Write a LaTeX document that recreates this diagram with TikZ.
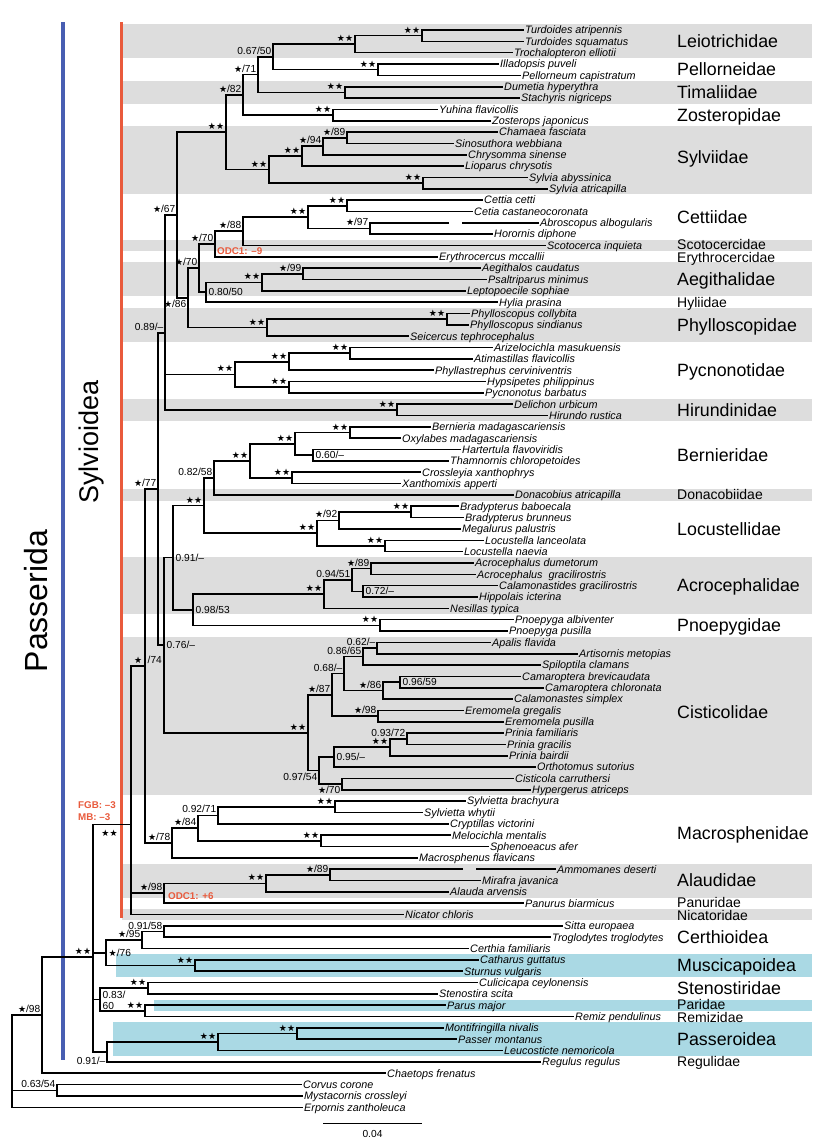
\documentclass[tikz,border=0pt]{standalone}
\usepackage{fontspec}
\setmainfont{Liberation Sans}
\newfontfamily\dvs{DejaVu Sans}
\definecolor{bandgray}{RGB}{221,221,221}
\definecolor{bandblue}{RGB}{170,217,228}
\definecolor{sylred}{RGB}{233,90,60}
\definecolor{pasblue}{RGB}{72,94,178}
\newcommand\stt{{\dvs\fontsize{9}{9}\selectfont ★}}
\newcommand\dst{\stt\kern0.3pt\stt}
\tikzset{
  br/.style={line width=1.6pt, line cap=rect, line join=miter},
  lf/.style={anchor=west, inner xsep=2pt, inner ysep=0pt, text height=8.4pt, text depth=0.7pt, font=\fontsize{10.8}{11}\selectfont\itshape},
  famL/.style={anchor=west, inner sep=0pt, text height=12.6pt, text depth=0pt, font=\fontsize{17.8}{18}\selectfont},
  famS/.style={anchor=west, inner sep=0pt, text height=10pt, text depth=0pt, font=\fontsize{14}{15}\selectfont},
  sup/.style={inner sep=0pt, text height=7.2pt, text depth=0pt, font=\fontsize{10.2}{11}\selectfont},
  supAL/.style={sup, anchor=south east, xshift=-1.5pt, yshift=2.3pt},
  supR/.style={sup, anchor=west, xshift=2.5pt},
  supBL/.style={sup, anchor=north east, xshift=-1.5pt, yshift=-2.3pt},
  odc/.style={anchor=west, inner sep=0pt, text=sylred, font=\fontsize{9.8}{10}\selectfont\bfseries},
  big/.style={rotate=90, inner sep=0pt},
}
\newcommand\mkleaf[4]{\node[lf] (l#1) at (#3,{Y(#1)}) {#4}; \draw[br] (#2) |- (l#1.west);}
\newcommand\supl[2]{\node[supAL] at (#1) {#2};}
\newcommand\gband[3]{\fill[#1] (122,{Y(#2-0.5)}) rectangle (812,{Y(#3+0.5)});}
\begin{document}
\begin{tikzpicture}[x=1pt,y=-1pt,declare function={Y(\i)=18.66+11.34*\i;}]
\useasboundingbox (0,0) rectangle (829,1138);
\fill[white] (0,0) rectangle (829,1138);
% bands
\gband{bandgray}{1}{3}
\gband{bandgray}{6}{7}
\gband{bandgray}{10}{15}
\gband{bandgray}{20}{20}
\gband{bandgray}{22}{24}
\gband{bandgray}{26}{28}
\gband{bandgray}{34}{35}
\gband{bandgray}{42}{42}
\gband{bandgray}{48}{52}
\gband{bandgray}{55}{68}
\gband{bandgray}{75}{77}
\gband{bandgray}{79}{79}
\fill[bandblue] (116,{Y(82.5)}) rectangle (812,{Y(84.5)});
\fill[bandblue] (154,{Y(86.5)}) rectangle (812,{Y(87.5)});
\fill[bandblue] (113,{Y(88.5)}) rectangle (812,{Y(91.5)});
% clade bars
\coordinate (redT) at (121.5,22); \coordinate (redB) at (121.5,918);
\coordinate (bluT) at (63,22); \coordinate (bluB) at (63,1060);
\draw[sylred, line width=3.5pt] (redT) -- (redB);
\draw[pasblue, line width=3.2pt] (bluT) -- (bluB);
\node[big, font=\fontsize{27}{30}\selectfont] (sylv) at (92,442) {Sylvioidea};
\node[big, font=\fontsize{32}{34}\selectfont] (pass) at (36,601) {Passerida};
% internal nodes
\coordinate (tA) at (422,{Y(1.5)});
\coordinate (nLeio) at (355,{Y(2.25)});
\coordinate (nPell) at (378,{Y(4.5)});
\coordinate (n6750) at (273,{Y(3.375)});
\coordinate (nTim) at (345,{Y(6.5)});
\coordinate (n71) at (258,{Y(4.9375)});
\coordinate (nZos) at (333,{Y(8.5)});
\coordinate (n82) at (243,{Y(6.71875)});
\coordinate (nCS) at (347,{Y(10.5)});
\coordinate (n94) at (323,{Y(11.25)});
\coordinate (nSyl2) at (302,{Y(12.125)});
\coordinate (nSylvia) at (423,{Y(14.5)});
\coordinate (nSylv) at (269,{Y(13.3125)});
\coordinate (nBab) at (226,{Y(10.015625)});
\coordinate (nCet2) at (347,{Y(16.5)});
\coordinate (nAbr) at (370,{Y(18.5)});
\coordinate (nCett) at (308,{Y(17.5)});
\coordinate (n88) at (243,{Y(18.75)});
\coordinate (n70a) at (215,{Y(19.875)});
\coordinate (nAeg2) at (303,{Y(22.5)});
\coordinate (nAeg) at (262,{Y(23.25)});
\coordinate (n8050) at (206,{Y(24.125)});
\coordinate (n70b) at (199,{Y(22)});
\coordinate (nPhy2) at (447,{Y(26.5)});
\coordinate (nPhy) at (267,{Y(27.25)});
\coordinate (n86) at (188,{Y(24.625)});
\coordinate (n67) at (177,{Y(17.3203)});
\coordinate (nAri) at (350,{Y(29.5)});
\coordinate (nPyc1) at (289,{Y(30.25)});
\coordinate (nPyc2) at (289,{Y(32.5)});
\coordinate (nPyc) at (235,{Y(31.375)});
\coordinate (nHir) at (397,{Y(34.5)});
\coordinate (n89) at (165,{Y(27.7318)});
\coordinate (nBer2) at (350,{Y(36.5)});
\coordinate (nHar) at (313,{Y(38.5)});
\coordinate (nBer1) at (295,{Y(37.5)});
\coordinate (nCro) at (292,{Y(40.5)});
\coordinate (nBer) at (250,{Y(39)});
\coordinate (n8258) at (214,{Y(40.5)});
\coordinate (nBra) at (411,{Y(43.5)});
\coordinate (n92) at (339,{Y(44.25)});
\coordinate (nLoc2) at (385,{Y(46.5)});
\coordinate (nLoc) at (317,{Y(45.375)});
\coordinate (nBLD) at (204,{Y(42.9375)});
\coordinate (nAcr2) at (371,{Y(48.5)});
\coordinate (nCal) at (363,{Y(50.5)});
\coordinate (n9451) at (352,{Y(49.5)});
\coordinate (nAcr) at (324,{Y(50.75)});
\coordinate (nPno) at (380,{Y(53.5)});
\coordinate (n9853) at (193,{Y(52.125)});
\coordinate (n91) at (173,{Y(47.53125)});
\coordinate (nApa) at (377,{Y(55.5)});
\coordinate (n8665) at (363,{Y(56.25)});
\coordinate (nCam2) at (400,{Y(58.5)});
\coordinate (nCam) at (383,{Y(59.25)});
\coordinate (n68) at (344,{Y(57.75)});
\coordinate (nEre) at (378,{Y(61.5)});
\coordinate (n87) at (332,{Y(59.625)});
\coordinate (nPri2) at (407,{Y(63.5)});
\coordinate (nPri) at (390,{Y(64.25)});
\coordinate (n95) at (334,{Y(65.125)});
\coordinate (nCis2) at (342,{Y(67.5)});
\coordinate (n9754) at (319,{Y(66.3125)});
\coordinate (nCis) at (308,{Y(62.96875)});
\coordinate (n76) at (164,{Y(55.25)});
\coordinate (n77) at (158,{Y(41.4909)});
\coordinate (nSyb) at (335,{Y(69.5)});
\coordinate (n9271) at (218,{Y(70.25)});
\coordinate (nMel) at (321,{Y(72.5)});
\coordinate (n84) at (198,{Y(71.375)});
\coordinate (n78) at (172,{Y(72.6875)});
\coordinate (n74) at (145,{Y(57.0892)});
\coordinate (nAmm) at (330,{Y(75.5)});
\coordinate (nAla) at (266,{Y(76.25)});
\coordinate (n98a) at (164,{Y(77.125)});
\coordinate (nSylvioidea) at (131,{Y(71.0714)});
\coordinate (nSit) at (164,{Y(80.5)});
\coordinate (n95c) at (142,{Y(81.25)});
\coordinate (nMus) at (195,{Y(83.5)});
\coordinate (n76c) at (106,{Y(82.375)});
\coordinate (nSte) at (148,{Y(85.5)});
\coordinate (nPar) at (145,{Y(87.5)});
\coordinate (n8360) at (100,{Y(86.5)});
\coordinate (nMon) at (297,{Y(89.5)});
\coordinate (nPas) at (218,{Y(90.25)});
\coordinate (n91b) at (107,{Y(91.125)});
\coordinate (nPasserida) at (93,{Y(82.7679)});
\coordinate (n98r) at (42,{Y(87.884)});
\coordinate (nCor) at (57,{Y(94.5)});
\coordinate (root) at (12,{Y(92.79)});
% internal edges
\foreach \p/\c in {nLeio/tA, n6750/nLeio, n6750/nPell, n71/n6750, n71/nTim, n82/n71, n82/nZos,
  n94/nCS, nSyl2/n94, nSylv/nSyl2, nSylv/nSylvia, nBab/n82, nBab/nSylv, n67/nBab, n67/n86,
  n86/n70b, n86/nPhy, n70b/n70a, n70b/n8050, n70a/n88, n88/nCett, nCett/nCet2, nCett/nAbr,
  n8050/nAeg, nAeg/nAeg2, nPhy/nPhy2, n89/n67, n89/nPyc, n89/nHir, nPyc/nPyc1, nPyc/nPyc2, nPyc1/nAri,
  n77/n89, n77/n76, n76/n91, n76/nCis, n91/nBLD, n91/n9853, nBLD/n8258, nBLD/nLoc, n8258/nBer,
  nBer/nBer1, nBer/nCro, nBer1/nBer2, nBer1/nHar, nLoc/n92, nLoc/nLoc2, n92/nBra,
  n9853/nAcr, n9853/nPno, nAcr/n9451, n9451/nAcr2, n9451/nCal,
  nCis/n87, nCis/n9754, n87/n68, n87/nEre, n68/n8665, n68/nCam, n8665/nApa, nCam/nCam2,
  n9754/n95, n9754/nCis2, n95/nPri, nPri/nPri2,
  n74/n77, n74/n78, n78/n84, n84/n9271, n84/nMel, n9271/nSyb,
  nSylvioidea/n74, nSylvioidea/n98a, n98a/nAla, nAla/nAmm,
  nPasserida/nSylvioidea, nPasserida/n76c, nPasserida/n8360, nPasserida/n91b,
  n76c/n95c, n76c/nMus, n95c/nSit, n8360/nSte, n8360/nPar, n91b/nPas, nPas/nMon,
  n98r/nPasserida, root/n98r, root/nCor}
  {\draw[br] (\p) |- (\c);}
% leaves
\mkleaf{1}{tA}{523}{Turdoides atripennis}
\mkleaf{2}{tA}{523}{Turdoides squamatus}
\mkleaf{3}{nLeio}{512}{Trochalopteron elliotii}
\mkleaf{4}{nPell}{498}{Illadopsis puveli}
\mkleaf{5}{nPell}{520}{Pellorneum capistratum}
\mkleaf{6}{nTim}{502}{Dumetia hyperythra}
\mkleaf{7}{nTim}{519}{Stachyris nigriceps}
\mkleaf{8}{nZos}{437}{Yuhina flavicollis}
\mkleaf{9}{nZos}{490}{Zosterops japonicus}
\mkleaf{10}{nCS}{497}{Chamaea fasciata}
\mkleaf{11}{nCS}{453}{Sinosuthora webbiana}
\mkleaf{12}{n94}{466}{Chrysomma sinense}
\mkleaf{13}{nSyl2}{463}{Lioparus chrysotis}
\mkleaf{14}{nSylvia}{527}{Sylvia abyssinica}
\mkleaf{15}{nSylvia}{547}{Sylvia atricapilla}
\mkleaf{16}{nCet2}{482}{Cettia cetti}
\mkleaf{17}{nCet2}{472}{Cetia castaneocoronata}
\coordinate (g18a) at (448,{Y(18)}); \coordinate (g18b) at (463,{Y(18)});
\node[lf] (l18) at (538,{Y(18)}) {Abroscopus albogularis};
\draw[br] (nAbr) |- (g18a); \draw[br] (g18b) -- (l18.west);
\mkleaf{19}{nAbr}{492}{Horornis diphone}
\mkleaf{20}{n88}{545}{Scotocerca inquieta}
\mkleaf{21}{n70a}{437}{Erythrocercus mccallii}
\mkleaf{22}{nAeg2}{480}{Aegithalos caudatus}
\mkleaf{23}{nAeg2}{486}{Psaltriparus minimus}
\mkleaf{24}{nAeg}{465}{Leptopoecile sophiae}
\mkleaf{25}{n8050}{497}{Hylia prasina}
\mkleaf{26}{nPhy2}{469}{Phylloscopus collybita}
\mkleaf{27}{nPhy2}{468}{Phylloscopus sindianus}
\mkleaf{28}{nPhy}{408}{Seicercus tephrocephalus}
\mkleaf{29}{nAri}{492}{Arizelocichla masukuensis}
\mkleaf{30}{nAri}{472}{Atimastillas flavicollis}
\mkleaf{31}{nPyc1}{433}{Phyllastrephus cerviniventris}
\mkleaf{32}{nPyc2}{485}{Hypsipetes philippinus}
\mkleaf{33}{nPyc2}{483}{Pycnonotus barbatus}
\mkleaf{34}{nHir}{512}{Delichon urbicum}
\mkleaf{35}{nHir}{547}{Hirundo rustica}
\mkleaf{36}{nBer2}{430}{Bernieria madagascariensis}
\mkleaf{37}{nBer2}{400}{Oxylabes madagascariensis}
\mkleaf{38}{nHar}{460}{Hartertula flavoviridis}
\mkleaf{39}{nHar}{448}{Thamnornis chloropetoides}
\mkleaf{40}{nCro}{420}{Crossleyia xanthophrys}
\mkleaf{41}{nCro}{400}{Xanthomixis apperti}
\mkleaf{42}{n8258}{513}{Donacobius atricapilla}
\mkleaf{43}{nBra}{458}{Bradypterus baboecala}
\mkleaf{44}{nBra}{463}{Bradypterus brunneus}
\mkleaf{45}{n92}{460}{Megalurus palustris}
\mkleaf{46}{nLoc2}{483}{Locustella lanceolata}
\mkleaf{47}{nLoc2}{462}{Locustella naevia}
\mkleaf{48}{nAcr2}{473}{Acrocephalus dumetorum}
\mkleaf{49}{nAcr2}{475}{Acrocephalus\ \ gracilirostris}
\mkleaf{50}{nCal}{497}{Calamonastides gracilirostris}
\mkleaf{51}{nCal}{477}{Hippolais icterina}
\mkleaf{52}{nAcr}{448}{Nesillas typica}
\mkleaf{53}{nPno}{513}{Pnoepyga albiventer}
\mkleaf{54}{nPno}{507}{Pnoepyga pusilla}
\mkleaf{55}{nApa}{490}{Apalis flavida}
\mkleaf{56}{nApa}{577}{Artisornis metopias}
\mkleaf{57}{n8665}{540}{Spiloptila clamans}
\mkleaf{58}{nCam2}{520}{Camaroptera brevicaudata}
\mkleaf{59}{nCam2}{543}{Camaroptera chloronata}
\mkleaf{60}{nCam}{512}{Calamonastes simplex}
\mkleaf{61}{nEre}{463}{Eremomela gregalis}
\mkleaf{62}{nEre}{503}{Eremomela pusilla}
\mkleaf{63}{nPri2}{503}{Prinia familiaris}
\mkleaf{64}{nPri2}{505}{Prinia gracilis}
\mkleaf{65}{nPri}{507}{Prinia bairdii}
\mkleaf{66}{n95}{535}{Orthotomus sutorius}
\mkleaf{67}{nCis2}{513}{Cisticola carruthersi}
\mkleaf{68}{nCis2}{530}{Hypergerus atriceps}
\mkleaf{69}{nSyb}{465}{Sylvietta brachyura}
\mkleaf{70}{nSyb}{422}{Sylvietta whytii}
\mkleaf{71}{n9271}{448}{Cryptillas victorini}
\mkleaf{72}{nMel}{450}{Melocichla mentalis}
\mkleaf{73}{nMel}{488}{Sphenoeacus afer}
\mkleaf{74}{n78}{417}{Macrosphenus flavicans}
\coordinate (g75a) at (462,{Y(75)}); \coordinate (g75b) at (477,{Y(75)});
\node[lf] (l75) at (555,{Y(75)}) {Ammomanes deserti};
\draw[br] (nAmm) |- (g75a); \draw[br] (g75b) -- (l75.west);
\mkleaf{76}{nAmm}{480}{Mirafra javanica}
\mkleaf{77}{nAla}{448}{Alauda arvensis}
\mkleaf{78}{n98a}{523}{Panurus biarmicus}
\mkleaf{79}{nSylvioidea}{403}{Nicator chloris}
\mkleaf{80}{nSit}{562}{Sitta europaea}
\mkleaf{81}{nSit}{550}{Troglodytes troglodytes}
\mkleaf{82}{n95c}{468}{Certhia familiaris}
\mkleaf{83}{nMus}{478}{Catharus guttatus}
\mkleaf{84}{nMus}{462}{Sturnus vulgaris}
\mkleaf{85}{nSte}{477}{Culicicapa ceylonensis}
\mkleaf{86}{nSte}{437}{Stenostira scita}
\mkleaf{87}{nPar}{445}{Parus major}
\mkleaf{88}{nPar}{573}{Remiz pendulinus}
\mkleaf{89}{nMon}{443}{Montifringilla nivalis}
\mkleaf{90}{nMon}{456}{Passer montanus}
\mkleaf{91}{nPas}{502}{Leucosticte nemoricola}
\mkleaf{92}{n91b}{540}{Regulus regulus}
\mkleaf{93}{n98r}{385}{Chaetops frenatus}
\mkleaf{94}{nCor}{301}{Corvus corone}
\mkleaf{95}{nCor}{302}{Mystacornis crossleyi}
\mkleaf{96}{root}{302}{Erpornis zantholeuca}
% support values above-left
\supl{tA}{\dst}
\supl{nLeio}{\dst}
\supl{nPell}{\dst}
\supl{n6750}{0.67/50}
\supl{nTim}{\dst}
\supl{n71}{\stt/71}
\supl{nZos}{\dst}
\supl{n82}{\stt/82}
\supl{nCS}{\stt/89}
\supl{n94}{\stt/94}
\supl{nSyl2}{\dst}
\supl{nSylvia}{\dst}
\supl{nSylv}{\dst}
\supl{nBab}{\dst}
\supl{nCet2}{\dst}
\supl{nAbr}{\stt/97}
\supl{nCett}{\dst}
\supl{n88}{\stt/88}
\supl{n70a}{\stt/70}
\supl{n70b}{\stt/70}
\supl{nAeg2}{\stt/99}
\supl{nAeg}{\dst}
\supl{nPhy2}{\dst}
\supl{nPhy}{\dst}
\supl{n67}{\stt/67}
\supl{nAri}{\dst}
\supl{nPyc1}{\dst}
\supl{nPyc2}{\dst}
\supl{nPyc}{\dst}
\supl{nHir}{\dst}
\supl{n89}{0.89/–}
\supl{nBer2}{\dst}
\supl{nBer1}{\dst}
\supl{nCro}{\dst}
\supl{nBer}{\dst}
\supl{n8258}{0.82/58}
\supl{nBLD}{\dst}
\supl{nBra}{\dst}
\supl{n92}{\stt/92}
\supl{nLoc2}{\dst}
\supl{nLoc}{\dst}
\supl{nAcr2}{\stt/89}
\supl{n9451}{0.94/51}
\supl{nAcr}{\dst}
\supl{nPno}{\dst}
\supl{nApa}{0.62/–}
\supl{n8665}{0.86/65}
\supl{nCam}{\stt/86}
\supl{n68}{0.68/–}
\supl{nEre}{\stt/98}
\supl{n87}{\stt/87}
\supl{nPri2}{0.93/72}
\supl{nPri}{\dst}
\supl{nCis}{\dst}
\supl{n77}{\stt/77}
\supl{nSyb}{\dst}
\supl{n9271}{0.92/71}
\supl{nMel}{\dst}
\supl{n84}{\stt/84}
\supl{n78}{\stt/78}
\supl{nAmm}{\stt/89}
\supl{nAla}{\dst}
\supl{n98a}{\stt/98}
\supl{nSit}{0.91/58}
\supl{n95c}{\stt/95}
\supl{nMus}{\dst}
\supl{nSte}{\dst}
\supl{nPar}{\dst}
\supl{nMon}{\dst}
\supl{nPas}{\dst}
\supl{nPasserida}{\dst}
\supl{n98r}{\stt/98}
\supl{nCor}{0.63/54}
% support values right of node
\node[supR] at (n8050) {0.80/50};
\node[supR] at (nHar) {0.60/–};
\node[supR] at (n91) {0.91/–};
\node[supR] at (n9853) {0.98/53};
\node[supR] at (n76) {0.76/–};
\node[supR] at (nCal) {0.72/–};
\node[supR] at (nCam2) {0.96/59};
\node[supR] at (n95) {0.95/–};
\node[supR] at (n76c) {\stt/76};
\node[supR, yshift=4.8pt] at (n8360) {0.83/};
\node[supR, yshift=-6.4pt] at (n8360) {60};
% support values below-left
\node[supBL] at (n86) {\stt/86};
\node[supBL] at (n9754) {0.97/54};
\node[supBL] at (nCis2) {\stt/70};
\node[supBL, yshift=-3pt] at (n91b) {0.91/–};
\node[supBL, xshift=-11.5pt, yshift=-2pt] at (nSylvioidea) {\dst};
\node[sup, anchor=south east, xshift=-2.5pt, yshift=2.3pt] at (n74) {\stt};
\node[sup, anchor=south west, xshift=2.5pt, yshift=2.3pt] at (n74) {/74};
% red notes
\node[odc] (odc9) at (217,251) {ODC1: –9};
\node[odc] (fgb) at (78,805) {FGB: –3};
\node[odc] (mb) at (78,817) {MB: –3};
\node[odc] (odc6) at (168,896) {ODC1: +6};
% family labels
\node[famL] (f1) at (677,{Y(2)}) {Leiotrichidae};
\node[famL] (f2) at (677,{Y(4.5)}) {Pellorneidae};
\node[famL] (f3) at (677,{Y(6.5)}) {Timaliidae};
\node[famL] (f4) at (677,{Y(8.5)}) {Zosteropidae};
\node[famL] (f5) at (677,{Y(12.2)}) {Sylviidae};
\node[famL] (f6) at (677,{Y(17.5)}) {Cettiidae};
\node[famS] (f7) at (677,{Y(20)-0.6}) {Scotocercidae};
\node[famS] (f8) at (677,{Y(21)+0.6}) {Erythrocercidae};
\node[famL] (f9) at (677,{Y(23)}) {Aegithalidae};
\node[famS] (f10) at (677,{Y(25)}) {Hyliidae};
\node[famL] (f11) at (677,{Y(27)}) {Phylloscopidae};
\node[famL] (f12) at (677,{Y(31)}) {Pycnonotidae};
\node[famL] (f13) at (677,{Y(34.5)}) {Hirundinidae};
\node[famL] (f14) at (677,{Y(38.5)}) {Bernieridae};
\node[famS] (f15) at (677,{Y(42)}) {Donacobiidae};
\node[famL] (f16) at (677,{Y(45)}) {Locustellidae};
\node[famL] (f17) at (677,{Y(50)}) {Acrocephalidae};
\node[famL] (f18) at (677,{Y(53.5)}) {Pnoepygidae};
\node[famL] (f19) at (677,{Y(61.2)}) {Cisticolidae};
\node[famL] (f20) at (677,{Y(71.8)}) {Macrosphenidae};
\node[famL] (f21) at (677,{Y(76)}) {Alaudidae};
\node[famS] (f22) at (677,{Y(78)-0.6}) {Panuridae};
\node[famS] (f23) at (677,{Y(79)+0.6}) {Nicatoridae};
\node[famL] (f24) at (677,{Y(81)}) {Certhioidea};
\node[famL] (f25) at (677,{Y(83.5)}) {Muscicapoidea};
\node[famL] (f26) at (677,{Y(85.5)}) {Stenostiridae};
\node[famS] (f27) at (677,{Y(87)-0.6}) {Paridae};
\node[famS] (f28) at (677,{Y(88)+0.6}) {Remizidae};
\node[famL] (f29) at (677,{Y(90)}) {Passeroidea};
\node[famS] (f30) at (677,{Y(92)}) {Regulidae};
% scale bar
\coordinate (sbA) at (323,1123); \coordinate (sbB) at (422,1123);
\draw[line width=1pt] (sbA) -- (sbB);
\node[sup, anchor=center] (sbl) at (372.5,1134) {0.04};
\end{tikzpicture}
\end{document}
